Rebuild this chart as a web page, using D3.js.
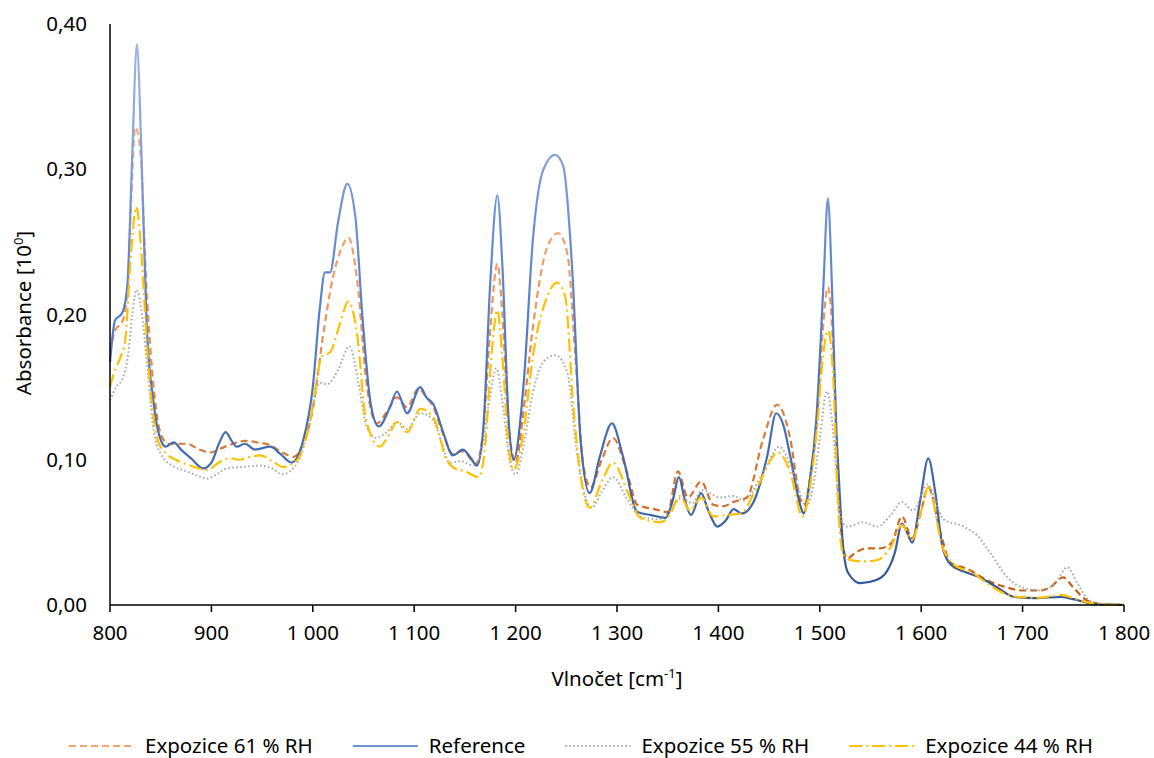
<!DOCTYPE html>
<html>
<head>
  <meta charset="utf-8">
  <script src="https://cdn.jsdelivr.net/npm/d3@7/dist/d3.min.js"></script>
  <style>
    body { margin: 0; background: #fff; }
    text { font-family: "Noto Sans", "Open Sans", sans-serif; fill: #000; }
  </style>
</head>
<body>
  <svg id="chart" width="1154" height="758"></svg>
  <script>
    // spektra: [vlnočet, absorbance]
    var expozice61 = [[800,0.174],[805,0.189],[812,0.195],[817,0.215],[821,0.28],[825,0.329],[830,0.311],[836,0.219],[843,0.150],[851,0.116],[858,0.111],[876,0.111],[888,0.107],[899,0.105],[910,0.108],[921,0.111],[933,0.113],[945,0.112],[958,0.110],[970,0.105],[981,0.102],[990,0.110],[1000,0.135],[1010,0.185],[1020,0.226],[1028,0.245],[1035,0.253],[1044,0.222],[1053,0.153],[1063,0.125],[1073,0.133],[1083,0.143],[1093,0.136],[1104,0.149],[1112,0.143],[1119,0.136],[1129,0.117],[1138,0.104],[1148,0.106],[1161,0.097],[1168,0.12],[1175,0.19],[1182,0.235],[1187,0.2],[1193,0.125],[1200,0.098],[1208,0.135],[1217,0.191],[1231,0.246],[1242,0.256],[1251,0.242],[1259,0.171],[1267,0.095],[1274,0.081],[1285,0.100],[1296,0.115],[1310,0.091],[1320,0.069],[1337,0.066],[1350,0.064],[1360,0.092],[1370,0.074],[1383,0.085],[1395,0.069],[1405,0.068],[1415,0.071],[1428,0.074],[1444,0.114],[1458,0.138],[1466,0.128],[1471,0.114],[1481,0.072],[1485,0.069],[1490,0.085],[1497,0.125],[1503,0.19],[1508,0.219],[1513,0.18],[1518,0.08],[1522,0.045],[1527,0.032],[1535,0.036],[1547,0.039],[1559,0.039],[1571,0.043],[1581,0.061],[1591,0.046],[1599,0.062],[1607,0.081],[1619,0.050],[1629,0.029],[1645,0.025],[1665,0.017],[1685,0.012],[1700,0.010],[1717,0.010],[1727,0.012],[1740,0.019],[1750,0.012],[1764,0.003],[1780,0.0005],[1800,0]];

    var reference = [[800,0.167],[805,0.196],[812,0.201],[817,0.219],[822,0.311],[826.5,0.386],[831,0.311],[836,0.196],[843,0.139],[851,0.112],[855,0.109],[863,0.112],[870,0.107],[880,0.101],[892,0.094],[900,0.098],[908,0.112],[914,0.119],[920,0.113],[925,0.109],[933,0.111],[943,0.107],[958,0.109],[968,0.104],[979,0.098],[990,0.112],[1000,0.150],[1007,0.205],[1012,0.229],[1017,0.229],[1025,0.264],[1034,0.290],[1042,0.267],[1049,0.198],[1057,0.139],[1065,0.123],[1076,0.136],[1083,0.147],[1093,0.132],[1106,0.150],[1112,0.143],[1119,0.138],[1129,0.118],[1138,0.103],[1148,0.107],[1155,0.102],[1162,0.096],[1168,0.120],[1175,0.222],[1182,0.282],[1187,0.233],[1193,0.129],[1198,0.100],[1208,0.153],[1217,0.251],[1227,0.299],[1239,0.310],[1247,0.302],[1256,0.229],[1264,0.114],[1273,0.077],[1283,0.102],[1295,0.125],[1306,0.102],[1320,0.064],[1333,0.062],[1348,0.060],[1355,0.072],[1361,0.088],[1367,0.072],[1373,0.062],[1383,0.077],[1390,0.065],[1399,0.054],[1407,0.058],[1415,0.066],[1423,0.063],[1434,0.070],[1448,0.102],[1457,0.132],[1464,0.124],[1471,0.102],[1481,0.068],[1484,0.063],[1490,0.085],[1496.5,0.127],[1503.5,0.219],[1508,0.280],[1512,0.219],[1516,0.127],[1519,0.085],[1523,0.040],[1528,0.022],[1540,0.015],[1555,0.017],[1566,0.023],[1574,0.036],[1581,0.056],[1586,0.050],[1591,0.043],[1599,0.072],[1607,0.101],[1614,0.077],[1621,0.040],[1629,0.028],[1642,0.023],[1658,0.019],[1675,0.012],[1692,0.0055],[1714,0.0048],[1737,0.0055],[1750,0.004],[1770,0.0007],[1790,0.0002],[1800,0]];

    var expozice55 = [[800,0.141],[806,0.150],[813,0.157],[818,0.173],[822,0.20],[826,0.217],[831,0.203],[837,0.162],[844,0.116],[852,0.102],[864,0.095],[876,0.092],[886,0.089],[896,0.087],[905,0.090],[915,0.094],[930,0.095],[948,0.096],[960,0.094],[970,0.090],[985,0.098],[995,0.120],[1007,0.153],[1014,0.152],[1025,0.162],[1036,0.178],[1045,0.153],[1053,0.123],[1063,0.115],[1073,0.119],[1083,0.126],[1093,0.121],[1106,0.132],[1118,0.128],[1127,0.112],[1135,0.098],[1146,0.099],[1158,0.096],[1166,0.105],[1174,0.14],[1181,0.163],[1187,0.14],[1194,0.100],[1200,0.090],[1208,0.110],[1217,0.146],[1227,0.167],[1239,0.172],[1251,0.160],[1261,0.102],[1271,0.070],[1275,0.067],[1285,0.078],[1296,0.088],[1310,0.073],[1323,0.061],[1340,0.059],[1352,0.065],[1364,0.074],[1374,0.070],[1384,0.079],[1402,0.074],[1415,0.075],[1425,0.072],[1444,0.091],[1460,0.109],[1474,0.091],[1487,0.068],[1493,0.08],[1500,0.115],[1507,0.147],[1513,0.12],[1518,0.075],[1521,0.059],[1527,0.054],[1543,0.057],[1557,0.054],[1570,0.062],[1581,0.071],[1592,0.065],[1606,0.083],[1622,0.059],[1642,0.054],[1655,0.048],[1668,0.036],[1685,0.019],[1700,0.012],[1720,0.010],[1734,0.017],[1744,0.026],[1754,0.015],[1766,0.003],[1780,0.0005],[1800,0]];

    var expozice44 = [[800,0.150],[805,0.162],[810,0.170],[815,0.182],[820,0.235],[826,0.274],[831,0.242],[837,0.173],[846,0.116],[853,0.106],[865,0.100],[879,0.096],[896,0.093],[907,0.098],[918,0.101],[928,0.100],[938,0.102],[948,0.103],[960,0.099],[971,0.095],[985,0.100],[997,0.125],[1009,0.171],[1017,0.174],[1027,0.194],[1035,0.209],[1044,0.185],[1052,0.129],[1066,0.109],[1075,0.117],[1083,0.126],[1093,0.119],[1106,0.135],[1119,0.129],[1132,0.100],[1140,0.094],[1150,0.092],[1164,0.088],[1170,0.11],[1176,0.17],[1182,0.203],[1187,0.17],[1193,0.11],[1198,0.093],[1208,0.12],[1217,0.171],[1231,0.212],[1241,0.222],[1249,0.212],[1257,0.136],[1266,0.081],[1273,0.067],[1285,0.085],[1296,0.098],[1311,0.077],[1323,0.060],[1343,0.057],[1352,0.062],[1362,0.075],[1372,0.065],[1383,0.074],[1395,0.061],[1408,0.062],[1422,0.063],[1438,0.081],[1459,0.105],[1471,0.091],[1483,0.061],[1490,0.08],[1497,0.12],[1503,0.17],[1508,0.189],[1513,0.16],[1518,0.07],[1523,0.035],[1530,0.031],[1543,0.030],[1557,0.031],[1570,0.040],[1581,0.055],[1591,0.045],[1599,0.062],[1607,0.081],[1621,0.040],[1632,0.028],[1651,0.022],[1671,0.012],[1691,0.006],[1717,0.005],[1737,0.007],[1757,0.003],[1775,0.0005],[1800,0]];

    var xTicks = [800, 900, 1000, 1100, 1200, 1300, 1400, 1500, 1600, 1700, 1800];
    var yTicks = [0, 0.1, 0.2, 0.3, 0.4];

    var series = [
      { name: "Expozice 61 % RH", data: expozice61, stroke: "url(#gOrange)", legend: "#f4a470", dash: "7,4", width: 2.2 },
      { name: "Reference",        data: reference,  stroke: "url(#gBlue)",   legend: "#6f93d3", dash: null,  width: 2.2 },
      { name: "Expozice 55 % RH", data: expozice55, stroke: "#a5a5a5",       legend: "#a5a5a5", dash: "1.5,2.5", width: 2 },
      { name: "Expozice 44 % RH", data: expozice44, stroke: "#ffc000",       legend: "#ffc000", dash: "13,4,2,4", width: 2.2 }
    ];

    var svg = d3.select("#chart");
    var cz = d3.formatLocale({ decimal: ",", thousands: " ", grouping: [3] });
    var fmtY = cz.format(".2f");
    var fmtX = cz.format(",d");
    var fs = "20.5px";

    var x = d3.scaleLinear().domain([800, 1800]).range([110, 1124]);
    var y = d3.scaleLinear().domain([0, 0.4]).range([605, 24]);

    // barevné přechody jako v Excelu (světlejší nahoře)
    var defs = svg.append("defs");
    function grad(id, stops) {
      var g = defs.append("linearGradient").attr("id", id)
        .attr("gradientUnits", "userSpaceOnUse")
        .attr("x1", 0).attr("x2", 0).attr("y1", y(0.4)).attr("y2", y(0));
      stops.forEach(function(s) { g.append("stop").attr("offset", s[0]).attr("stop-color", s[1]); });
    }
    grad("gBlue", [["0%", "#a4bce6"], ["45%", "#5b84cc"], ["100%", "#2f5597"]]);
    grad("gOrange", [["0%", "#f8c4a0"], ["45%", "#ef9a5f"], ["100%", "#c55a11"]]);

    var line = d3.line()
      .x(function(d) { return x(d[0]); })
      .y(function(d) { return y(d[1]); })
      .curve(d3.curveMonotoneX);

    series.forEach(function(s) {
      svg.append("path")
        .datum(s.data)
        .attr("d", line)
        .attr("fill", "none")
        .attr("stroke", s.stroke)
        .attr("stroke-width", s.width)
        .attr("stroke-dasharray", s.dash)
        .attr("stroke-linejoin", "round");
    });

    // osy
    svg.append("line").attr("x1", x(800)).attr("x2", x(800)).attr("y1", y(0.4)).attr("y2", y(0))
      .attr("stroke", "#000").attr("stroke-width", 1.5);
    svg.append("line").attr("x1", x(800)).attr("x2", x(1800)).attr("y1", y(0)).attr("y2", y(0))
      .attr("stroke", "#000").attr("stroke-width", 1.5);

    svg.selectAll(".xt").data(xTicks).enter().append("line")
      .attr("x1", function(d) { return x(d); }).attr("x2", function(d) { return x(d); })
      .attr("y1", y(0)).attr("y2", y(0) + 7)
      .attr("stroke", "#000").attr("stroke-width", 1.5);

    svg.selectAll(".xl").data(xTicks).enter().append("text")
      .attr("x", function(d) { return x(d); })
      .attr("y", 640)
      .attr("text-anchor", "middle")
      .style("font-size", fs)
      .text(function(d) { return fmtX(d); });

    svg.selectAll(".yl").data(yTicks).enter().append("text")
      .attr("x", 87)
      .attr("y", function(d) { return y(d) + 7; })
      .attr("text-anchor", "end")
      .style("font-size", fs)
      .text(function(d) { return fmtY(d); });

    // popisky os
    var yt = svg.append("text")
      .attr("transform", "translate(31,313) rotate(-90)")
      .attr("text-anchor", "middle")
      .style("font-size", fs);
    yt.append("tspan").text("Absorbance [10");
    yt.append("tspan").attr("dy", -8).style("font-size", "13px").text("0");
    yt.append("tspan").attr("dy", 8).text("]");

    var xt = svg.append("text")
      .attr("x", 617).attr("y", 686)
      .attr("text-anchor", "middle")
      .style("font-size", fs);
    xt.append("tspan").text("Vlnočet [cm");
    xt.append("tspan").attr("dy", -8).style("font-size", "13px").text("-1");
    xt.append("tspan").attr("dy", 8).text("]");

    // legenda
    var lg = svg.append("g");
    var pos = 0;
    series.forEach(function(s) {
      var it = lg.append("g").attr("transform", "translate(" + pos + ",0)");
      it.append("line").attr("x1", 0).attr("x2", 65).attr("y1", 0).attr("y2", 0)
        .attr("stroke", s.legend).attr("stroke-width", 2).attr("stroke-dasharray", s.dash);
      var t = it.append("text").attr("x", 76).attr("y", 7).style("font-size", fs).text(s.name);
      pos += 76 + t.node().getComputedTextLength() + 40;
    });
    pos -= 40;
    lg.attr("transform", "translate(" + (581 - pos / 2) + ",746)");
  </script>
</body>
</html>
